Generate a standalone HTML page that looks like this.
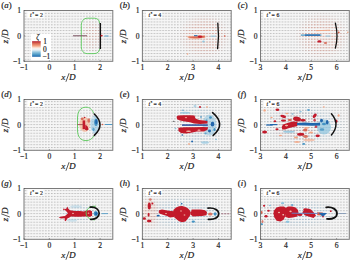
<!DOCTYPE html><html><head><meta charset="utf-8"><style>
html,body{margin:0;padding:0;background:#fff;width:350px;height:260px;overflow:hidden}
svg{display:block}
.s{font-family:"Liberation Serif",serif;fill:#1a1a1a;stroke:#1a1a1a;stroke-width:0.18px}
</style></head><body>
<svg width="350" height="260" viewBox="0 0 350 260">
<defs>
<linearGradient id="cb" x1="0" y1="0" x2="0" y2="1"><stop offset="0" stop-color="#b2182b"/><stop offset="0.12" stop-color="#d6604d"/><stop offset="0.3" stop-color="#f4a582"/><stop offset="0.42" stop-color="#fbe3d6"/><stop offset="0.5" stop-color="#f7f7f7"/><stop offset="0.58" stop-color="#dcebf3"/><stop offset="0.7" stop-color="#92c5de"/><stop offset="0.88" stop-color="#4393c3"/><stop offset="1" stop-color="#2166ac"/></linearGradient>
<radialGradient id="pk"><stop offset="0" stop-color="#f4a582" stop-opacity="0.32"/><stop offset="0.6" stop-color="#f4a582" stop-opacity="0.22"/><stop offset="1" stop-color="#f4a582" stop-opacity="0"/></radialGradient>
<radialGradient id="wg"><stop offset="0" stop-color="#fff"/><stop offset="0.55" stop-color="#fff"/><stop offset="1" stop-color="#000"/></radialGradient>
</defs>
<pattern id="arr00" patternUnits="userSpaceOnUse" x="24.60" y="12.85" width="2.93" height="2.87"><rect width="2.93" height="2.87" fill="#f6f6f6"/><rect x="0.3" y="0.0" width="1.1" height="1.0" fill="#a4a4a4"/></pattern>
<rect x="24.00" y="10.50" width="88.8" height="50.8" fill="url(#arr00)"/>
<pattern id="arr00p" patternUnits="userSpaceOnUse" x="24.60" y="12.85" width="2.93" height="2.87"><rect x="0.3" y="0.0" width="1.1" height="1.0" fill="#e48a78"/></pattern>
<pattern id="arr00b" patternUnits="userSpaceOnUse" x="24.60" y="12.85" width="2.93" height="2.87"><rect x="0.3" y="0.0" width="1.1" height="1.0" fill="#7fb2d6"/></pattern>
<pattern id="arr01" patternUnits="userSpaceOnUse" x="141.85" y="12.85" width="2.93" height="2.87"><rect width="2.93" height="2.87" fill="#f6f6f6"/><rect x="0.3" y="0.0" width="1.1" height="1.0" fill="#a4a4a4"/></pattern>
<rect x="142.40" y="10.50" width="88.8" height="50.8" fill="url(#arr01)"/>
<pattern id="arr01p" patternUnits="userSpaceOnUse" x="141.85" y="12.85" width="2.93" height="2.87"><rect x="0.3" y="0.0" width="1.1" height="1.0" fill="#e48a78"/></pattern>
<pattern id="arr01b" patternUnits="userSpaceOnUse" x="141.85" y="12.85" width="2.93" height="2.87"><rect x="0.3" y="0.0" width="1.1" height="1.0" fill="#7fb2d6"/></pattern>
<pattern id="arr02" patternUnits="userSpaceOnUse" x="261.10" y="12.85" width="2.93" height="2.87"><rect width="2.93" height="2.87" fill="#f6f6f6"/><rect x="0.3" y="0.0" width="1.1" height="1.0" fill="#a4a4a4"/></pattern>
<rect x="260.50" y="10.50" width="88.8" height="50.8" fill="url(#arr02)"/>
<pattern id="arr02p" patternUnits="userSpaceOnUse" x="261.10" y="12.85" width="2.93" height="2.87"><rect x="0.3" y="0.0" width="1.1" height="1.0" fill="#e48a78"/></pattern>
<pattern id="arr02b" patternUnits="userSpaceOnUse" x="261.10" y="12.85" width="2.93" height="2.87"><rect x="0.3" y="0.0" width="1.1" height="1.0" fill="#7fb2d6"/></pattern>
<pattern id="arr10" patternUnits="userSpaceOnUse" x="24.60" y="101.15" width="2.93" height="2.87"><rect width="2.93" height="2.87" fill="#f6f6f6"/><rect x="0.3" y="0.0" width="1.1" height="1.0" fill="#a4a4a4"/></pattern>
<rect x="24.00" y="99.50" width="88.8" height="50.8" fill="url(#arr10)"/>
<pattern id="arr10p" patternUnits="userSpaceOnUse" x="24.60" y="101.15" width="2.93" height="2.87"><rect x="0.3" y="0.0" width="1.1" height="1.0" fill="#e48a78"/></pattern>
<pattern id="arr10b" patternUnits="userSpaceOnUse" x="24.60" y="101.15" width="2.93" height="2.87"><rect x="0.3" y="0.0" width="1.1" height="1.0" fill="#7fb2d6"/></pattern>
<pattern id="arr11" patternUnits="userSpaceOnUse" x="141.85" y="101.15" width="2.93" height="2.87"><rect width="2.93" height="2.87" fill="#f6f6f6"/><rect x="0.3" y="0.0" width="1.1" height="1.0" fill="#a4a4a4"/></pattern>
<rect x="142.40" y="99.50" width="88.8" height="50.8" fill="url(#arr11)"/>
<pattern id="arr11p" patternUnits="userSpaceOnUse" x="141.85" y="101.15" width="2.93" height="2.87"><rect x="0.3" y="0.0" width="1.1" height="1.0" fill="#e48a78"/></pattern>
<pattern id="arr11b" patternUnits="userSpaceOnUse" x="141.85" y="101.15" width="2.93" height="2.87"><rect x="0.3" y="0.0" width="1.1" height="1.0" fill="#7fb2d6"/></pattern>
<pattern id="arr12" patternUnits="userSpaceOnUse" x="261.10" y="101.15" width="2.93" height="2.87"><rect width="2.93" height="2.87" fill="#f6f6f6"/><rect x="0.3" y="0.0" width="1.1" height="1.0" fill="#a4a4a4"/></pattern>
<rect x="260.50" y="99.50" width="88.8" height="50.8" fill="url(#arr12)"/>
<pattern id="arr12p" patternUnits="userSpaceOnUse" x="261.10" y="101.15" width="2.93" height="2.87"><rect x="0.3" y="0.0" width="1.1" height="1.0" fill="#e48a78"/></pattern>
<pattern id="arr12b" patternUnits="userSpaceOnUse" x="261.10" y="101.15" width="2.93" height="2.87"><rect x="0.3" y="0.0" width="1.1" height="1.0" fill="#7fb2d6"/></pattern>
<pattern id="arr20" patternUnits="userSpaceOnUse" x="24.60" y="190.15" width="2.93" height="2.87"><rect width="2.93" height="2.87" fill="#f6f6f6"/><rect x="0.3" y="0.0" width="1.1" height="1.0" fill="#a4a4a4"/></pattern>
<rect x="24.00" y="188.50" width="88.8" height="50.8" fill="url(#arr20)"/>
<pattern id="arr20p" patternUnits="userSpaceOnUse" x="24.60" y="190.15" width="2.93" height="2.87"><rect x="0.3" y="0.0" width="1.1" height="1.0" fill="#e48a78"/></pattern>
<pattern id="arr20b" patternUnits="userSpaceOnUse" x="24.60" y="190.15" width="2.93" height="2.87"><rect x="0.3" y="0.0" width="1.1" height="1.0" fill="#7fb2d6"/></pattern>
<pattern id="arr21" patternUnits="userSpaceOnUse" x="141.85" y="190.15" width="2.93" height="2.87"><rect width="2.93" height="2.87" fill="#f6f6f6"/><rect x="0.3" y="0.0" width="1.1" height="1.0" fill="#a4a4a4"/></pattern>
<rect x="142.40" y="188.50" width="88.8" height="50.8" fill="url(#arr21)"/>
<pattern id="arr21p" patternUnits="userSpaceOnUse" x="141.85" y="190.15" width="2.93" height="2.87"><rect x="0.3" y="0.0" width="1.1" height="1.0" fill="#e48a78"/></pattern>
<pattern id="arr21b" patternUnits="userSpaceOnUse" x="141.85" y="190.15" width="2.93" height="2.87"><rect x="0.3" y="0.0" width="1.1" height="1.0" fill="#7fb2d6"/></pattern>
<pattern id="arr22" patternUnits="userSpaceOnUse" x="261.10" y="190.15" width="2.93" height="2.87"><rect width="2.93" height="2.87" fill="#f6f6f6"/><rect x="0.3" y="0.0" width="1.1" height="1.0" fill="#a4a4a4"/></pattern>
<rect x="260.50" y="188.50" width="88.8" height="50.8" fill="url(#arr22)"/>
<pattern id="arr22p" patternUnits="userSpaceOnUse" x="261.10" y="190.15" width="2.93" height="2.87"><rect x="0.3" y="0.0" width="1.1" height="1.0" fill="#e48a78"/></pattern>
<pattern id="arr22b" patternUnits="userSpaceOnUse" x="261.10" y="190.15" width="2.93" height="2.87"><rect x="0.3" y="0.0" width="1.1" height="1.0" fill="#7fb2d6"/></pattern>
<path d="M99.7,23.2 C99.5,19.8 97.4,18.2 94.2,18.2 L87.4,18.2 C83.6,18.2 81.3,21.2 81.3,25.5 L81.3,46.5 C81.3,51 83.6,53.6 87.4,53.6 L94,53.6 C97.2,53.6 99.4,52 99.8,49" fill="none" stroke="#5ac85a" stroke-width="0.9" stroke-linecap="round"/>
<line x1="73" y1="35.8" x2="87" y2="35.8" stroke="#7a5060" stroke-width="1.0"/>
<line x1="100.3" y1="23" x2="100.3" y2="49" stroke="#111" stroke-width="1.5"/>
<ellipse cx="101.6" cy="35.6" rx="1.1" ry="0.9" fill="#c21a2b"/>
<line x1="104.5" y1="36" x2="108.5" y2="36" stroke="#4393c3" stroke-width="0.9"/>
<mask id="m00p9236" maskUnits="userSpaceOnUse" x="0" y="0" width="350" height="260"><ellipse cx="92" cy="36" rx="11" ry="17" fill="url(#wg)" opacity="0.6"/></mask>
<rect x="24.00" y="10.50" width="88.8" height="50.8" fill="url(#arr00p)" mask="url(#m00p9236)"/>
<mask id="m00b10836" maskUnits="userSpaceOnUse" x="0" y="0" width="350" height="260"><ellipse cx="108" cy="36" rx="6" ry="10" fill="url(#wg)" opacity="0.5"/></mask>
<rect x="24.00" y="10.50" width="88.8" height="50.8" fill="url(#arr00b)" mask="url(#m00b10836)"/>
<mask id="m01p20436" maskUnits="userSpaceOnUse" x="0" y="0" width="350" height="260"><ellipse cx="204" cy="36" rx="26" ry="23" fill="url(#wg)" opacity="0.9"/></mask>
<rect x="142.40" y="10.50" width="88.8" height="50.8" fill="url(#arr01p)" mask="url(#m01p20436)"/>
<polygon points="186.5,36.6 192,36.2 198,35.6 205,35.4 205.5,37.6 200,38.6 194,39 189,38.2" fill="#f4a582" opacity="0.9"/>
<polygon points="188,36.8 196,36.4 204.8,35.8 204.8,37.6 198,38.2 190,37.8" fill="#d6604d" opacity="0.9"/>
<ellipse cx="200" cy="36.6" rx="2.3" ry="1.2" fill="#c21a2b"/>
<line x1="194" y1="35.7" x2="197.5" y2="35.7" stroke="#2166ac" stroke-width="1.0"/>
<line x1="210.5" y1="36.2" x2="216" y2="36.2" stroke="#92c5de" stroke-width="1.0"/>
<ellipse cx="224.7" cy="36" rx="0.9" ry="0.7" fill="#d6604d"/>
<ellipse cx="187.5" cy="54" rx="0.8" ry="0.8" fill="#f4a582"/>
<ellipse cx="203.5" cy="41.5" rx="1.3" ry="0.9" fill="#92c5de"/>
<path d="M217.8,23.2 Q219.3,36 217.6,48.6" fill="none" stroke="#111" stroke-width="1.3" stroke-linecap="round"/>
<mask id="m02p32236" maskUnits="userSpaceOnUse" x="0" y="0" width="350" height="260"><ellipse cx="322" cy="36" rx="27" ry="24" fill="url(#wg)" opacity="0.9"/></mask>
<rect x="260.50" y="10.50" width="88.8" height="50.8" fill="url(#arr02p)" mask="url(#m02p32236)"/>
<line x1="300.8" y1="35.1" x2="321.4" y2="35.1" stroke="#4393c3" stroke-width="1.2"/>
<line x1="305" y1="35.1" x2="320" y2="35.1" stroke="#2166ac" stroke-width="1.3"/>
<line x1="325.5" y1="36.1" x2="330.5" y2="36.1" stroke="#92c5de" stroke-width="1.0"/>
<ellipse cx="319.4" cy="41.4" rx="2.1" ry="1.2" fill="#c21a2b"/>
<ellipse cx="325.5" cy="43" rx="1.7" ry="1.0" fill="#d6604d" opacity="0.85"/>
<line x1="316" y1="30.7" x2="330" y2="30.2" stroke="#f4a582" stroke-width="0.9"/>
<ellipse cx="338.7" cy="32.3" rx="1.0" ry="0.9" fill="#d6604d"/>
<ellipse cx="347.8" cy="32.3" rx="0.8" ry="0.7" fill="#f4a582"/>
<path d="M335.4,23.2 Q338.6,36 335.4,48.2" fill="none" stroke="#111" stroke-width="1.3" stroke-linecap="round"/>
<path d="M93.6,113 C92,109.2 89.5,107.2 86,107.2 C80,107.2 77.6,112 77.5,118 L77.5,130 C77.6,136 80,140.6 86,140.6 C89.5,140.6 92.2,139 94,136" fill="none" stroke="#5ac85a" stroke-width="0.9" stroke-linecap="round"/>
<ellipse cx="84.8" cy="124.5" rx="5.2" ry="7.6" fill="#f4a582" opacity="0.55"/>
<ellipse cx="81.5" cy="124.5" rx="2.4" ry="5.5" fill="#f8c9a8" opacity="0.5"/>
<ellipse cx="94.6" cy="124.6" rx="4.2" ry="9.2" fill="#92c5de" opacity="0.62"/>
<ellipse cx="92.5" cy="131" rx="1.2" ry="1.0" fill="#ffffff" opacity="0.6"/>
<ellipse cx="93" cy="118" rx="1.0" ry="1.0" fill="#ffffff" opacity="0.5"/>
<rect x="82.6" y="120.4" width="2.6" height="8.8" fill="#c21a2b"/>
<polygon points="85.4,124.5 87.6,126.6 88.6,129.4 86.8,130.4 85,129.8 85.2,127.2" fill="#c21a2b"/>
<ellipse cx="82.2" cy="118.8" rx="1.5" ry="1.2" fill="#d6604d" opacity="0.9"/>
<ellipse cx="88.8" cy="120.5" rx="1.4" ry="2.2" fill="#d6604d" opacity="0.85"/>
<ellipse cx="84.6" cy="117.5" rx="0.8" ry="0.8" fill="#c21a2b"/>
<ellipse cx="96" cy="122.3" rx="1.8" ry="3.6" fill="#4393c3"/>
<ellipse cx="96.3" cy="121.8" rx="1.1" ry="2.4" fill="#2166ac"/>
<ellipse cx="93.5" cy="129.5" rx="1.2" ry="1.8" fill="#4393c3" opacity="0.8"/>
<line x1="77.2" y1="124.6" x2="83" y2="124.6" stroke="#9a5050" stroke-width="0.9"/>
<path d="M94.3,114 Q105.7,124.8 94.3,135.3" fill="none" stroke="#111" stroke-width="1.6" stroke-linecap="round"/>
<ellipse cx="102.5" cy="124.5" rx="0.8" ry="0.7" fill="#d6604d"/>
<line x1="105" y1="124.5" x2="112.5" y2="124.5" stroke="#4393c3" stroke-width="0.9"/>
<mask id="m11b198124" maskUnits="userSpaceOnUse" x="0" y="0" width="350" height="260"><ellipse cx="198" cy="124.5" rx="27" ry="24" fill="url(#wg)" opacity="0.8"/></mask>
<rect x="142.40" y="99.50" width="88.8" height="50.8" fill="url(#arr11b)" mask="url(#m11b198124)"/>
<mask id="m11p190124" maskUnits="userSpaceOnUse" x="0" y="0" width="350" height="260"><ellipse cx="190" cy="124.5" rx="18" ry="14" fill="url(#wg)" opacity="0.5"/></mask>
<rect x="142.40" y="99.50" width="88.8" height="50.8" fill="url(#arr11p)" mask="url(#m11p190124)"/>
<ellipse cx="209.5" cy="125" rx="7" ry="10.5" fill="#92c5de" opacity="0.55"/>
<ellipse cx="185" cy="112.8" rx="5" ry="1" fill="#92c5de" opacity="0.8"/>
<polygon points="176.6,116.6 178,115.6 183,115.2 190,115.2 194.5,115.6 195.5,118.6 199,120 204,120.4 207.5,120.8 207.5,123.4 200,123.9 194,123.6 190,122.2 185,121.6 180,120.6 177,119.2" fill="#c21a2b"/>
<ellipse cx="186" cy="117.6" rx="1.2" ry="0.6" fill="#f0a898"/>
<polygon points="178.4,127.8 185,127.2 195,127.3 203,126.9 208.2,127.3 207.4,129.8 204,131.4 197,131.6 191,132.8 186,133.4 181,133 178.4,131" fill="#c21a2b"/>
<ellipse cx="188.5" cy="131.2" rx="2.5" ry="0.7" fill="#f3c0b0"/>
<ellipse cx="199" cy="130.2" rx="1.6" ry="0.6" fill="#f3c0b0"/>
<line x1="182" y1="125.1" x2="207.8" y2="125.1" stroke="#2d4f9e" stroke-width="1.5"/>
<ellipse cx="212.5" cy="124.2" rx="1.8" ry="2.4" fill="#2166ac"/>
<ellipse cx="209.5" cy="131" rx="1.5" ry="1.4" fill="#2166ac"/>
<ellipse cx="214.5" cy="129.5" rx="1.1" ry="1.6" fill="#4393c3"/>
<ellipse cx="210.5" cy="117.5" rx="1.4" ry="1.2" fill="#4393c3"/>
<ellipse cx="206.5" cy="120.2" rx="1.0" ry="0.8" fill="#4393c3"/>
<ellipse cx="201" cy="117" rx="1" ry="0.8" fill="#4393c3"/>
<ellipse cx="205.5" cy="133.5" rx="1.1" ry="0.9" fill="#4393c3" opacity="0.8"/>
<ellipse cx="200" cy="107" rx="1" ry="0.9" fill="#c21a2b"/>
<ellipse cx="207" cy="107" rx="1" ry="0.8" fill="#f4a582"/>
<ellipse cx="182.3" cy="135" rx="0.9" ry="0.8" fill="#2166ac"/>
<ellipse cx="192.1" cy="141.4" rx="1" ry="0.9" fill="#2166ac"/>
<ellipse cx="205" cy="142.5" rx="4" ry="1.3" fill="#92c5de" opacity="0.7"/>
<ellipse cx="175.5" cy="128.5" rx="0.9" ry="0.8" fill="#92c5de"/>
<ellipse cx="182.8" cy="110.2" rx="1.2" ry="0.7" fill="#4393c3" opacity="0.6"/>
<ellipse cx="195" cy="106" rx="1.5" ry="0.7" fill="#92c5de"/>
<ellipse cx="189" cy="144" rx="1.2" ry="0.7" fill="#f4a582"/>
<ellipse cx="216" cy="139.5" rx="1.0" ry="0.8" fill="#92c5de"/>
<ellipse cx="173.7" cy="121.2" rx="1" ry="0.5" fill="#555"/>
<path d="M212.6,112.6 Q226.4,124.2 213.2,135.4" fill="none" stroke="#111" stroke-width="1.6" stroke-linecap="round"/>
<mask id="m12b304125" maskUnits="userSpaceOnUse" x="0" y="0" width="350" height="260"><ellipse cx="304" cy="125" rx="44" ry="22" fill="url(#wg)" opacity="0.8"/></mask>
<rect x="260.50" y="99.50" width="88.8" height="50.8" fill="url(#arr12b)" mask="url(#m12b304125)"/>
<mask id="m12p296126" maskUnits="userSpaceOnUse" x="0" y="0" width="350" height="260"><ellipse cx="296" cy="126" rx="30" ry="18" fill="url(#wg)" opacity="0.6"/></mask>
<rect x="260.50" y="99.50" width="88.8" height="50.8" fill="url(#arr12p)" mask="url(#m12p296126)"/>
<ellipse cx="324" cy="127" rx="7" ry="7.5" fill="#92c5de" opacity="0.75"/>
<ellipse cx="289" cy="131.7" rx="6" ry="1" fill="#92c5de" opacity="0.9"/>
<ellipse cx="277.4" cy="109.8" rx="1.9" ry="1.3" fill="#c21a2b"/>
<ellipse cx="283.5" cy="120.6" rx="2.6" ry="1.1" fill="#c21a2b"/>
<ellipse cx="289.8" cy="120" rx="2.2" ry="1.0" fill="#d6604d"/>
<ellipse cx="306.5" cy="127.8" rx="2.6" ry="0.9" fill="#f4a582"/>
<ellipse cx="311" cy="132.5" rx="2" ry="1" fill="#f4a582"/>
<ellipse cx="296" cy="137.5" rx="2" ry="0.9" fill="#f4a582"/>
<ellipse cx="287" cy="113.5" rx="1.5" ry="0.8" fill="#f4a582"/>
<ellipse cx="271.5" cy="117.5" rx="1.2" ry="0.8" fill="#f4a582"/>
<ellipse cx="280.5" cy="135.5" rx="1.6" ry="0.8" fill="#f4a582"/>
<ellipse cx="300.5" cy="111.8" rx="1.3" ry="0.8" fill="#92c5de"/>
<ellipse cx="292.5" cy="114" rx="1.2" ry="0.7" fill="#4393c3" opacity="0.6"/>
<ellipse cx="264.6" cy="110.4" rx="1.2" ry="1.2" fill="#f4a582"/>
<ellipse cx="283.2" cy="116.3" rx="3" ry="1.4" fill="#c21a2b" transform="rotate(15 283.2 116.3)"/>
<ellipse cx="297" cy="119" rx="4" ry="2.4" fill="#c21a2b" transform="rotate(10 297 119)"/>
<ellipse cx="303" cy="120.3" rx="2.8" ry="1.3" fill="#c21a2b"/>
<polygon points="281.7,127 283,124.5 286,123.4 289,122.4 293,121.6 297,121.8 298.3,123.5 297,126.2 292,127.2 288.5,128.2 285,129.6 282.3,129.4" fill="#c21a2b"/>
<ellipse cx="286.5" cy="125.6" rx="1.6" ry="0.8" fill="#f2b8a8"/>
<ellipse cx="274.9" cy="121.2" rx="1.3" ry="1" fill="#c21a2b"/>
<ellipse cx="277" cy="129.2" rx="1.6" ry="1" fill="#c21a2b"/>
<ellipse cx="264.6" cy="132.1" rx="2.5" ry="1.5" fill="#c21a2b"/>
<ellipse cx="300.7" cy="134.2" rx="3.6" ry="1.5" fill="#c21a2b"/>
<ellipse cx="305.5" cy="136.5" rx="2.6" ry="1.4" fill="#d6604d" opacity="0.85"/>
<ellipse cx="305.3" cy="130" rx="2.3" ry="1.6" fill="#d6604d" opacity="0.9"/>
<ellipse cx="314.6" cy="120.2" rx="1.2" ry="1.4" fill="#c21a2b" opacity="0.8"/>
<ellipse cx="314.7" cy="115.8" rx="1.5" ry="2.6" fill="#c21a2b" transform="rotate(40 314.7 115.8)"/>
<ellipse cx="316" cy="126.5" rx="1.3" ry="1.5" fill="#c21a2b" opacity="0.8"/>
<ellipse cx="317.7" cy="135.8" rx="2.2" ry="1.4" fill="#c21a2b"/>
<ellipse cx="297" cy="142" rx="3" ry="1" fill="#f4a582" opacity="0.8"/>
<ellipse cx="309" cy="140" rx="6" ry="1.5" fill="#f4a582" opacity="0.6"/>
<line x1="266.2" y1="125" x2="272.7" y2="125" stroke="#2166ac" stroke-width="1.3"/>
<line x1="270" y1="124.6" x2="277.4" y2="124.6" stroke="#2166ac" stroke-width="1.2"/>
<polygon points="297,123 305,122.6 312,123 320,122.8 320,125.6 312,125.8 305,125.4 297,125.3" fill="#2166ac"/>
<ellipse cx="321.5" cy="120.6" rx="1.5" ry="1.8" fill="#2166ac"/>
<ellipse cx="327.2" cy="122.3" rx="1.3" ry="2.2" fill="#2166ac"/>
<ellipse cx="324" cy="124" rx="2" ry="1.2" fill="#4393c3"/>
<ellipse cx="322" cy="129.5" rx="2.3" ry="1.3" fill="#4393c3" opacity="0.8"/>
<ellipse cx="308.5" cy="110" rx="1.5" ry="1" fill="#4393c3" opacity="0.8"/>
<ellipse cx="303.7" cy="143.9" rx="1.5" ry="0.9" fill="#4393c3"/>
<ellipse cx="323.8" cy="106.9" rx="1" ry="0.7" fill="#f4a582"/>
<ellipse cx="336.2" cy="121.2" rx="1.3" ry="1.6" fill="#c21a2b"/>
<ellipse cx="338.6" cy="115.5" rx="1" ry="1.2" fill="#f4a582"/>
<path d="M331.4,113.8 Q340.6,124.5 331.4,135" fill="none" stroke="#111" stroke-width="1.4" stroke-linecap="round"/>
<mask id="m20b80213" maskUnits="userSpaceOnUse" x="0" y="0" width="350" height="260"><ellipse cx="80" cy="213" rx="20" ry="11" fill="url(#wg)" opacity="0.8"/></mask>
<rect x="24.00" y="188.50" width="88.8" height="50.8" fill="url(#arr20b)" mask="url(#m20b80213)"/>
<polygon points="64.2,209.6 66.4,208.6 67.3,206.6 68.4,208.8 70,210.2 75,211 80,211 84,211.4 86,210.6 90,210.3 92,211.2 92.2,215.8 90,216.8 86,216.6 84,216.6 80,216.8 76,216.8 71,216.6 69.4,217.4 67.3,218.4 65.8,221.3 64.6,220.4 64.8,218.2 61,218.5 58.6,217.4 61.5,216.6 65,216 68,213.3 66,211" fill="#c21a2b"/>
<ellipse cx="63.9" cy="209.4" rx="0.8" ry="0.8" fill="#c21a2b"/>
<ellipse cx="73" cy="213.4" rx="0.9" ry="0.6" fill="#f0b0a8"/>
<ellipse cx="88.5" cy="213.2" rx="0.8" ry="0.6" fill="#f0b0a8"/>
<ellipse cx="79.9" cy="188.6" rx="0.6" ry="0.6" fill="#c21a2b"/>
<path d="M95.5,206.2 C90,206 86.4,208.8 86.1,212.6 C85.9,216.4 88.6,219.6 94.5,219.9" fill="none" stroke="#5ac85a" stroke-width="0.95" stroke-linecap="round"/>
<ellipse cx="95.8" cy="213.5" rx="2.2" ry="2.6" fill="#4393c3"/>
<ellipse cx="96.2" cy="213.6" rx="1.2" ry="1.6" fill="#2166ac"/>
<path d="M90.2,207.2 C95.5,206.6 99.2,209.6 99.2,213.2 C99.2,216.8 95.5,219.8 90.8,219.4" fill="none" stroke="#111" stroke-width="1.7" stroke-linecap="round"/>
<line x1="101.5" y1="213.6" x2="108" y2="213.6" stroke="#4393c3" stroke-width="0.8"/>
<ellipse cx="76" cy="206.5" rx="6" ry="1.2" fill="#92c5de" opacity="0.4"/>
<ellipse cx="72" cy="220.5" rx="5" ry="1.2" fill="#92c5de" opacity="0.4"/>
<mask id="m21b182213" maskUnits="userSpaceOnUse" x="0" y="0" width="350" height="260"><ellipse cx="182" cy="213" rx="44" ry="18" fill="url(#wg)" opacity="0.8"/></mask>
<rect x="142.40" y="188.50" width="88.8" height="50.8" fill="url(#arr21b)" mask="url(#m21b182213)"/>
<mask id="m21p150213" maskUnits="userSpaceOnUse" x="0" y="0" width="350" height="260"><ellipse cx="150" cy="213" rx="12" ry="18" fill="url(#wg)" opacity="0.7"/></mask>
<rect x="142.40" y="188.50" width="88.8" height="50.8" fill="url(#arr21p)" mask="url(#m21p150213)"/>
<ellipse cx="150" cy="212" rx="7" ry="11" fill="#f4a582" opacity="0.12"/>
<polygon points="173.4,210 176,207.4 179,206.2 182,206 185,206.8 187.5,208 189.5,210 191,212.5 190,215.5 188,218.5 185.5,221.6 182,222.3 179,221.2 176.5,219.2 174.5,217.4 173.4,214" fill="#c21a2b"/>
<ellipse cx="181" cy="211" rx="0.9" ry="0.7" fill="#e89a90"/>
<ellipse cx="184.5" cy="215" rx="0.9" ry="0.7" fill="#e89a90"/>
<polygon points="159,210.2 162,209.6 166,210.2 169,210.8 174,211.2 174,217 170,217.4 167,216 163,214.8 160,213.8 158.6,212.4" fill="#c21a2b"/>
<ellipse cx="166" cy="213.5" rx="1" ry="0.6" fill="#f0b0a0"/>
<polygon points="191.6,209.5 196,209.4 201,209.6 205,210.2 207,212 206.5,215.2 202,216 197,216.2 193,216.6 190.5,214.5" fill="#c21a2b"/>
<ellipse cx="210.3" cy="214" rx="2.3" ry="1.6" fill="#d6604d" opacity="0.85"/>
<ellipse cx="149.3" cy="206.1" rx="1.6" ry="3.5" fill="#c21a2b"/>
<ellipse cx="150.3" cy="199.5" rx="1.3" ry="1.2" fill="#d6604d" opacity="0.8"/>
<ellipse cx="152.4" cy="203.5" rx="1" ry="1" fill="#c21a2b"/>
<ellipse cx="148.6" cy="214.7" rx="1.0" ry="1.9" fill="#c21a2b"/>
<ellipse cx="144.2" cy="218.5" rx="1.7" ry="1.3" fill="#c21a2b"/>
<ellipse cx="149.2" cy="221" rx="2.3" ry="1.3" fill="#c21a2b"/>
<ellipse cx="158.2" cy="215.6" rx="1.6" ry="0.9" fill="#2166ac"/>
<ellipse cx="181.7" cy="203.8" rx="0.9" ry="0.8" fill="#2166ac"/>
<ellipse cx="193.3" cy="221.6" rx="1.7" ry="1.1" fill="#4393c3"/>
<ellipse cx="215.1" cy="214" rx="1.5" ry="1.7" fill="#4393c3"/>
<path d="M208,208.1 C215,207.4 218.7,210.5 218.7,213.8 C218.7,217.2 215,219.8 208.4,219.3" fill="none" stroke="#111" stroke-width="1.7" stroke-linecap="round"/>
<line x1="221.3" y1="213.8" x2="230.5" y2="213.8" stroke="#9a6070" stroke-width="0.9" stroke-dasharray="2 1"/>
<mask id="m22b298213" maskUnits="userSpaceOnUse" x="0" y="0" width="350" height="260"><ellipse cx="298" cy="213" rx="42" ry="16" fill="url(#wg)" opacity="0.8"/></mask>
<rect x="260.50" y="188.50" width="88.8" height="50.8" fill="url(#arr22b)" mask="url(#m22b298213)"/>
<mask id="m22p280213" maskUnits="userSpaceOnUse" x="0" y="0" width="350" height="260"><ellipse cx="280" cy="213" rx="20" ry="12" fill="url(#wg)" opacity="0.5"/></mask>
<rect x="260.50" y="188.50" width="88.8" height="50.8" fill="url(#arr22p)" mask="url(#m22p280213)"/>
<polygon points="274,210.5 276.5,207.6 280,206.4 284,206.6 286.5,208.4 286.4,212 285.4,216 283.6,219.8 280.5,221.6 276.6,220.8 274.4,217.6 273.4,213.6" fill="#c21a2b"/>
<polygon points="285,208.2 288,206.4 292,206.6 295.6,207.6 298,210 298.6,213 297.2,216.4 293,217.6 288.6,218 285.4,217" fill="#c21a2b"/>
<ellipse cx="279" cy="212.5" rx="1.1" ry="0.8" fill="#f0b5a5"/>
<ellipse cx="290.5" cy="211.4" rx="1.2" ry="0.8" fill="#f0b5a5"/>
<ellipse cx="283.2" cy="214.8" rx="0.9" ry="0.7" fill="#f4d0c4"/>
<ellipse cx="266" cy="216.2" rx="1.6" ry="1.3" fill="#c21a2b"/>
<ellipse cx="264.1" cy="205.8" rx="1.1" ry="1" fill="#c21a2b"/>
<ellipse cx="261.5" cy="212.5" rx="1.1" ry="1.4" fill="#d6604d"/>
<ellipse cx="268.5" cy="210.8" rx="1.3" ry="1.0" fill="#c21a2b"/>
<ellipse cx="262.5" cy="221.5" rx="1.0" ry="1.6" fill="#d6604d" opacity="0.8"/>
<ellipse cx="282.6" cy="203.2" rx="1.5" ry="0.9" fill="#92c5de"/>
<ellipse cx="287.6" cy="221.7" rx="1.8" ry="1" fill="#92c5de"/>
<ellipse cx="292.2" cy="205" rx="1" ry="0.8" fill="#4393c3" opacity="0.7"/>
<ellipse cx="261.8" cy="224.2" rx="1" ry="0.9" fill="#4393c3" opacity="0.8"/>
<ellipse cx="270" cy="205.5" rx="1.2" ry="0.8" fill="#92c5de"/>
<polygon points="302.3,212.6 304.5,209.2 308,208.6 311,209.4 313.8,212.6 316,215.5 313.5,218 309.5,216.8 305,215.6" fill="#c21a2b"/>
<ellipse cx="305.3" cy="209.5" rx="2" ry="1.2" fill="#c21a2b"/>
<ellipse cx="300" cy="214.6" rx="2.5" ry="1.5" fill="#c21a2b"/>
<polygon points="317,212.2 322.8,212.6 323,215.6 317.2,215.2" fill="#d6604d"/>
<ellipse cx="323" cy="216.5" rx="0.9" ry="0.9" fill="#c21a2b"/>
<polygon points="318.5,212.8 327,213.1 324.5,215.4 322.5,216.6" fill="#2166ac"/>
<line x1="291.6" y1="213.2" x2="318" y2="213.4" stroke="#6a7fc0" stroke-width="1.0"/>
<ellipse cx="282.6" cy="203.2" rx="1.5" ry="0.9" fill="#92c5de"/>
<ellipse cx="287.6" cy="221.7" rx="1.8" ry="1" fill="#92c5de"/>
<ellipse cx="292.2" cy="205" rx="1" ry="0.8" fill="#4393c3" opacity="0.7"/>
<ellipse cx="261.8" cy="224.2" rx="1" ry="0.9" fill="#4393c3" opacity="0.8"/>
<ellipse cx="330.8" cy="211.2" rx="0.9" ry="0.9" fill="#c21a2b"/>
<path d="M326.2,207.3 C332.5,206.6 337,209.5 337,213.5 C337,217.5 332.5,219.4 327,218.9" fill="none" stroke="#111" stroke-width="1.8" stroke-linecap="round"/>
<line x1="338.5" y1="213.5" x2="346" y2="213.5" stroke="#7a90b0" stroke-width="0.8"/>
<rect x="24.00" y="10.50" width="88.8" height="50.8" fill="none" stroke="#7a7a7a" stroke-width="1"/>
<line x1="24.00" y1="61.30" x2="24.00" y2="60.10" stroke="#555" stroke-width="0.6"/>
<line x1="49.37" y1="61.30" x2="49.37" y2="60.10" stroke="#555" stroke-width="0.6"/>
<line x1="74.74" y1="61.30" x2="74.74" y2="60.10" stroke="#555" stroke-width="0.6"/>
<line x1="100.11" y1="61.30" x2="100.11" y2="60.10" stroke="#555" stroke-width="0.6"/>
<line x1="24.00" y1="61.30" x2="25.20" y2="61.30" stroke="#555" stroke-width="0.6"/>
<line x1="24.00" y1="35.90" x2="25.20" y2="35.90" stroke="#555" stroke-width="0.6"/>
<line x1="24.00" y1="10.50" x2="25.20" y2="10.50" stroke="#555" stroke-width="0.6"/>
<rect x="27.30" y="11.50" width="16.5" height="6.4" fill="#fff"/>
<text y="17.00" font-size="5.8" class="s"><tspan x="30.10" font-style="italic">t</tspan><tspan x="32.20" font-size="3.8" dy="-2.2">*</tspan><tspan x="35.10" dy="2.2">=</tspan><tspan x="39.90">2</tspan></text>
<text x="1.30" y="7.60" font-size="8.8" class="s">(<tspan font-style="italic">a</tspan>)</text>
<text x="21.10" y="13.10" font-size="7.6" class="s" text-anchor="end">1</text>
<text x="21.10" y="38.50" font-size="7.6" class="s" text-anchor="end">0</text>
<text x="21.10" y="63.90" font-size="7.6" class="s" text-anchor="end">−1</text>
<text x="24.00" y="69.60" font-size="7.6" class="s" text-anchor="middle">−1</text>
<text x="49.37" y="69.60" font-size="7.6" class="s" text-anchor="middle">0</text>
<text x="74.74" y="69.60" font-size="7.6" class="s" text-anchor="middle">1</text>
<text x="100.11" y="69.60" font-size="7.6" class="s" text-anchor="middle">2</text>
<text x="61.20" y="79.80" font-size="9.2" class="s" font-style="italic">x</text>
<line x1="65.90" y1="81.80" x2="69.10" y2="73.20" stroke="#222" stroke-width="0.75"/>
<text x="69.00" y="79.80" font-size="9.2" class="s" font-style="italic">D</text>
<g transform="translate(7.80 36.10) rotate(-90)"><text x="-7.4" y="0" font-size="9.2" class="s" font-style="italic">z</text><line x1="-2.9" y1="2.0" x2="0.3" y2="-6.6" stroke="#222" stroke-width="0.75"/><text x="0.2" y="0" font-size="9.2" class="s" font-style="italic">D</text></g>
<rect x="142.40" y="10.50" width="88.8" height="50.8" fill="none" stroke="#7a7a7a" stroke-width="1"/>
<line x1="142.40" y1="61.30" x2="142.40" y2="60.10" stroke="#555" stroke-width="0.6"/>
<line x1="167.77" y1="61.30" x2="167.77" y2="60.10" stroke="#555" stroke-width="0.6"/>
<line x1="193.14" y1="61.30" x2="193.14" y2="60.10" stroke="#555" stroke-width="0.6"/>
<line x1="218.51" y1="61.30" x2="218.51" y2="60.10" stroke="#555" stroke-width="0.6"/>
<line x1="142.40" y1="61.30" x2="143.60" y2="61.30" stroke="#555" stroke-width="0.6"/>
<line x1="142.40" y1="35.90" x2="143.60" y2="35.90" stroke="#555" stroke-width="0.6"/>
<line x1="142.40" y1="10.50" x2="143.60" y2="10.50" stroke="#555" stroke-width="0.6"/>
<rect x="145.70" y="11.50" width="16.5" height="6.4" fill="#fff"/>
<text y="17.00" font-size="5.8" class="s"><tspan x="148.50" font-style="italic">t</tspan><tspan x="150.60" font-size="3.8" dy="-2.2">*</tspan><tspan x="153.50" dy="2.2">=</tspan><tspan x="158.30">4</tspan></text>
<text x="119.70" y="7.60" font-size="8.8" class="s">(<tspan font-style="italic">b</tspan>)</text>
<text x="139.50" y="13.10" font-size="7.6" class="s" text-anchor="end">1</text>
<text x="139.50" y="38.50" font-size="7.6" class="s" text-anchor="end">0</text>
<text x="139.50" y="63.90" font-size="7.6" class="s" text-anchor="end">−1</text>
<text x="142.40" y="69.60" font-size="7.6" class="s" text-anchor="middle">1</text>
<text x="167.77" y="69.60" font-size="7.6" class="s" text-anchor="middle">2</text>
<text x="193.14" y="69.60" font-size="7.6" class="s" text-anchor="middle">3</text>
<text x="218.51" y="69.60" font-size="7.6" class="s" text-anchor="middle">4</text>
<text x="179.60" y="79.80" font-size="9.2" class="s" font-style="italic">x</text>
<line x1="184.30" y1="81.80" x2="187.50" y2="73.20" stroke="#222" stroke-width="0.75"/>
<text x="187.40" y="79.80" font-size="9.2" class="s" font-style="italic">D</text>
<g transform="translate(126.20 36.10) rotate(-90)"><text x="-7.4" y="0" font-size="9.2" class="s" font-style="italic">z</text><line x1="-2.9" y1="2.0" x2="0.3" y2="-6.6" stroke="#222" stroke-width="0.75"/><text x="0.2" y="0" font-size="9.2" class="s" font-style="italic">D</text></g>
<rect x="260.50" y="10.50" width="88.8" height="50.8" fill="none" stroke="#7a7a7a" stroke-width="1"/>
<line x1="260.50" y1="61.30" x2="260.50" y2="60.10" stroke="#555" stroke-width="0.6"/>
<line x1="285.87" y1="61.30" x2="285.87" y2="60.10" stroke="#555" stroke-width="0.6"/>
<line x1="311.24" y1="61.30" x2="311.24" y2="60.10" stroke="#555" stroke-width="0.6"/>
<line x1="336.61" y1="61.30" x2="336.61" y2="60.10" stroke="#555" stroke-width="0.6"/>
<line x1="260.50" y1="61.30" x2="261.70" y2="61.30" stroke="#555" stroke-width="0.6"/>
<line x1="260.50" y1="35.90" x2="261.70" y2="35.90" stroke="#555" stroke-width="0.6"/>
<line x1="260.50" y1="10.50" x2="261.70" y2="10.50" stroke="#555" stroke-width="0.6"/>
<rect x="263.80" y="11.50" width="16.5" height="6.4" fill="#fff"/>
<text y="17.00" font-size="5.8" class="s"><tspan x="266.60" font-style="italic">t</tspan><tspan x="268.70" font-size="3.8" dy="-2.2">*</tspan><tspan x="271.60" dy="2.2">=</tspan><tspan x="276.40">6</tspan></text>
<text x="237.80" y="7.60" font-size="8.8" class="s">(<tspan font-style="italic">c</tspan>)</text>
<text x="257.60" y="13.10" font-size="7.6" class="s" text-anchor="end">1</text>
<text x="257.60" y="38.50" font-size="7.6" class="s" text-anchor="end">0</text>
<text x="257.60" y="63.90" font-size="7.6" class="s" text-anchor="end">−1</text>
<text x="260.50" y="69.60" font-size="7.6" class="s" text-anchor="middle">3</text>
<text x="285.87" y="69.60" font-size="7.6" class="s" text-anchor="middle">4</text>
<text x="311.24" y="69.60" font-size="7.6" class="s" text-anchor="middle">5</text>
<text x="336.61" y="69.60" font-size="7.6" class="s" text-anchor="middle">6</text>
<text x="297.70" y="79.80" font-size="9.2" class="s" font-style="italic">x</text>
<line x1="302.40" y1="81.80" x2="305.60" y2="73.20" stroke="#222" stroke-width="0.75"/>
<text x="305.50" y="79.80" font-size="9.2" class="s" font-style="italic">D</text>
<g transform="translate(244.30 36.10) rotate(-90)"><text x="-7.4" y="0" font-size="9.2" class="s" font-style="italic">z</text><line x1="-2.9" y1="2.0" x2="0.3" y2="-6.6" stroke="#222" stroke-width="0.75"/><text x="0.2" y="0" font-size="9.2" class="s" font-style="italic">D</text></g>
<rect x="24.00" y="99.50" width="88.8" height="50.8" fill="none" stroke="#7a7a7a" stroke-width="1"/>
<line x1="24.00" y1="150.30" x2="24.00" y2="149.10" stroke="#555" stroke-width="0.6"/>
<line x1="49.37" y1="150.30" x2="49.37" y2="149.10" stroke="#555" stroke-width="0.6"/>
<line x1="74.74" y1="150.30" x2="74.74" y2="149.10" stroke="#555" stroke-width="0.6"/>
<line x1="100.11" y1="150.30" x2="100.11" y2="149.10" stroke="#555" stroke-width="0.6"/>
<line x1="24.00" y1="150.30" x2="25.20" y2="150.30" stroke="#555" stroke-width="0.6"/>
<line x1="24.00" y1="124.90" x2="25.20" y2="124.90" stroke="#555" stroke-width="0.6"/>
<line x1="24.00" y1="99.50" x2="25.20" y2="99.50" stroke="#555" stroke-width="0.6"/>
<rect x="27.30" y="100.50" width="16.5" height="6.4" fill="#fff"/>
<text y="106.00" font-size="5.8" class="s"><tspan x="30.10" font-style="italic">t</tspan><tspan x="32.20" font-size="3.8" dy="-2.2">*</tspan><tspan x="35.10" dy="2.2">=</tspan><tspan x="39.90">2</tspan></text>
<text x="1.30" y="96.60" font-size="8.8" class="s">(<tspan font-style="italic">d</tspan>)</text>
<text x="21.10" y="102.10" font-size="7.6" class="s" text-anchor="end">1</text>
<text x="21.10" y="127.50" font-size="7.6" class="s" text-anchor="end">0</text>
<text x="21.10" y="152.90" font-size="7.6" class="s" text-anchor="end">−1</text>
<text x="24.00" y="158.60" font-size="7.6" class="s" text-anchor="middle">−1</text>
<text x="49.37" y="158.60" font-size="7.6" class="s" text-anchor="middle">0</text>
<text x="74.74" y="158.60" font-size="7.6" class="s" text-anchor="middle">1</text>
<text x="100.11" y="158.60" font-size="7.6" class="s" text-anchor="middle">2</text>
<text x="61.20" y="168.80" font-size="9.2" class="s" font-style="italic">x</text>
<line x1="65.90" y1="170.80" x2="69.10" y2="162.20" stroke="#222" stroke-width="0.75"/>
<text x="69.00" y="168.80" font-size="9.2" class="s" font-style="italic">D</text>
<g transform="translate(7.80 125.10) rotate(-90)"><text x="-7.4" y="0" font-size="9.2" class="s" font-style="italic">z</text><line x1="-2.9" y1="2.0" x2="0.3" y2="-6.6" stroke="#222" stroke-width="0.75"/><text x="0.2" y="0" font-size="9.2" class="s" font-style="italic">D</text></g>
<rect x="142.40" y="99.50" width="88.8" height="50.8" fill="none" stroke="#7a7a7a" stroke-width="1"/>
<line x1="142.40" y1="150.30" x2="142.40" y2="149.10" stroke="#555" stroke-width="0.6"/>
<line x1="167.77" y1="150.30" x2="167.77" y2="149.10" stroke="#555" stroke-width="0.6"/>
<line x1="193.14" y1="150.30" x2="193.14" y2="149.10" stroke="#555" stroke-width="0.6"/>
<line x1="218.51" y1="150.30" x2="218.51" y2="149.10" stroke="#555" stroke-width="0.6"/>
<line x1="142.40" y1="150.30" x2="143.60" y2="150.30" stroke="#555" stroke-width="0.6"/>
<line x1="142.40" y1="124.90" x2="143.60" y2="124.90" stroke="#555" stroke-width="0.6"/>
<line x1="142.40" y1="99.50" x2="143.60" y2="99.50" stroke="#555" stroke-width="0.6"/>
<rect x="145.70" y="100.50" width="16.5" height="6.4" fill="#fff"/>
<text y="106.00" font-size="5.8" class="s"><tspan x="148.50" font-style="italic">t</tspan><tspan x="150.60" font-size="3.8" dy="-2.2">*</tspan><tspan x="153.50" dy="2.2">=</tspan><tspan x="158.30">4</tspan></text>
<text x="119.70" y="96.60" font-size="8.8" class="s">(<tspan font-style="italic">e</tspan>)</text>
<text x="139.50" y="102.10" font-size="7.6" class="s" text-anchor="end">1</text>
<text x="139.50" y="127.50" font-size="7.6" class="s" text-anchor="end">0</text>
<text x="139.50" y="152.90" font-size="7.6" class="s" text-anchor="end">−1</text>
<text x="142.40" y="158.60" font-size="7.6" class="s" text-anchor="middle">1</text>
<text x="167.77" y="158.60" font-size="7.6" class="s" text-anchor="middle">2</text>
<text x="193.14" y="158.60" font-size="7.6" class="s" text-anchor="middle">3</text>
<text x="218.51" y="158.60" font-size="7.6" class="s" text-anchor="middle">4</text>
<text x="179.60" y="168.80" font-size="9.2" class="s" font-style="italic">x</text>
<line x1="184.30" y1="170.80" x2="187.50" y2="162.20" stroke="#222" stroke-width="0.75"/>
<text x="187.40" y="168.80" font-size="9.2" class="s" font-style="italic">D</text>
<g transform="translate(126.20 125.10) rotate(-90)"><text x="-7.4" y="0" font-size="9.2" class="s" font-style="italic">z</text><line x1="-2.9" y1="2.0" x2="0.3" y2="-6.6" stroke="#222" stroke-width="0.75"/><text x="0.2" y="0" font-size="9.2" class="s" font-style="italic">D</text></g>
<rect x="260.50" y="99.50" width="88.8" height="50.8" fill="none" stroke="#7a7a7a" stroke-width="1"/>
<line x1="260.50" y1="150.30" x2="260.50" y2="149.10" stroke="#555" stroke-width="0.6"/>
<line x1="285.87" y1="150.30" x2="285.87" y2="149.10" stroke="#555" stroke-width="0.6"/>
<line x1="311.24" y1="150.30" x2="311.24" y2="149.10" stroke="#555" stroke-width="0.6"/>
<line x1="336.61" y1="150.30" x2="336.61" y2="149.10" stroke="#555" stroke-width="0.6"/>
<line x1="260.50" y1="150.30" x2="261.70" y2="150.30" stroke="#555" stroke-width="0.6"/>
<line x1="260.50" y1="124.90" x2="261.70" y2="124.90" stroke="#555" stroke-width="0.6"/>
<line x1="260.50" y1="99.50" x2="261.70" y2="99.50" stroke="#555" stroke-width="0.6"/>
<rect x="263.80" y="100.50" width="16.5" height="6.4" fill="#fff"/>
<text y="106.00" font-size="5.8" class="s"><tspan x="266.60" font-style="italic">t</tspan><tspan x="268.70" font-size="3.8" dy="-2.2">*</tspan><tspan x="271.60" dy="2.2">=</tspan><tspan x="276.40">6</tspan></text>
<text x="237.80" y="96.60" font-size="8.8" class="s">(<tspan font-style="italic">f</tspan>)</text>
<text x="257.60" y="102.10" font-size="7.6" class="s" text-anchor="end">1</text>
<text x="257.60" y="127.50" font-size="7.6" class="s" text-anchor="end">0</text>
<text x="257.60" y="152.90" font-size="7.6" class="s" text-anchor="end">−1</text>
<text x="260.50" y="158.60" font-size="7.6" class="s" text-anchor="middle">3</text>
<text x="285.87" y="158.60" font-size="7.6" class="s" text-anchor="middle">4</text>
<text x="311.24" y="158.60" font-size="7.6" class="s" text-anchor="middle">5</text>
<text x="336.61" y="158.60" font-size="7.6" class="s" text-anchor="middle">6</text>
<text x="297.70" y="168.80" font-size="9.2" class="s" font-style="italic">x</text>
<line x1="302.40" y1="170.80" x2="305.60" y2="162.20" stroke="#222" stroke-width="0.75"/>
<text x="305.50" y="168.80" font-size="9.2" class="s" font-style="italic">D</text>
<g transform="translate(244.30 125.10) rotate(-90)"><text x="-7.4" y="0" font-size="9.2" class="s" font-style="italic">z</text><line x1="-2.9" y1="2.0" x2="0.3" y2="-6.6" stroke="#222" stroke-width="0.75"/><text x="0.2" y="0" font-size="9.2" class="s" font-style="italic">D</text></g>
<rect x="24.00" y="188.50" width="88.8" height="50.8" fill="none" stroke="#7a7a7a" stroke-width="1"/>
<line x1="24.00" y1="239.30" x2="24.00" y2="238.10" stroke="#555" stroke-width="0.6"/>
<line x1="49.37" y1="239.30" x2="49.37" y2="238.10" stroke="#555" stroke-width="0.6"/>
<line x1="74.74" y1="239.30" x2="74.74" y2="238.10" stroke="#555" stroke-width="0.6"/>
<line x1="100.11" y1="239.30" x2="100.11" y2="238.10" stroke="#555" stroke-width="0.6"/>
<line x1="24.00" y1="239.30" x2="25.20" y2="239.30" stroke="#555" stroke-width="0.6"/>
<line x1="24.00" y1="213.90" x2="25.20" y2="213.90" stroke="#555" stroke-width="0.6"/>
<line x1="24.00" y1="188.50" x2="25.20" y2="188.50" stroke="#555" stroke-width="0.6"/>
<rect x="27.30" y="189.50" width="16.5" height="6.4" fill="#fff"/>
<text y="195.00" font-size="5.8" class="s"><tspan x="30.10" font-style="italic">t</tspan><tspan x="32.20" font-size="3.8" dy="-2.2">*</tspan><tspan x="35.10" dy="2.2">=</tspan><tspan x="39.90">2</tspan></text>
<text x="1.30" y="185.60" font-size="8.8" class="s">(<tspan font-style="italic">g</tspan>)</text>
<text x="21.10" y="191.10" font-size="7.6" class="s" text-anchor="end">1</text>
<text x="21.10" y="216.50" font-size="7.6" class="s" text-anchor="end">0</text>
<text x="21.10" y="241.90" font-size="7.6" class="s" text-anchor="end">−1</text>
<text x="24.00" y="247.60" font-size="7.6" class="s" text-anchor="middle">−1</text>
<text x="49.37" y="247.60" font-size="7.6" class="s" text-anchor="middle">0</text>
<text x="74.74" y="247.60" font-size="7.6" class="s" text-anchor="middle">1</text>
<text x="100.11" y="247.60" font-size="7.6" class="s" text-anchor="middle">2</text>
<text x="61.20" y="257.80" font-size="9.2" class="s" font-style="italic">x</text>
<line x1="65.90" y1="259.80" x2="69.10" y2="251.20" stroke="#222" stroke-width="0.75"/>
<text x="69.00" y="257.80" font-size="9.2" class="s" font-style="italic">D</text>
<g transform="translate(7.80 214.10) rotate(-90)"><text x="-7.4" y="0" font-size="9.2" class="s" font-style="italic">z</text><line x1="-2.9" y1="2.0" x2="0.3" y2="-6.6" stroke="#222" stroke-width="0.75"/><text x="0.2" y="0" font-size="9.2" class="s" font-style="italic">D</text></g>
<rect x="142.40" y="188.50" width="88.8" height="50.8" fill="none" stroke="#7a7a7a" stroke-width="1"/>
<line x1="142.40" y1="239.30" x2="142.40" y2="238.10" stroke="#555" stroke-width="0.6"/>
<line x1="167.77" y1="239.30" x2="167.77" y2="238.10" stroke="#555" stroke-width="0.6"/>
<line x1="193.14" y1="239.30" x2="193.14" y2="238.10" stroke="#555" stroke-width="0.6"/>
<line x1="218.51" y1="239.30" x2="218.51" y2="238.10" stroke="#555" stroke-width="0.6"/>
<line x1="142.40" y1="239.30" x2="143.60" y2="239.30" stroke="#555" stroke-width="0.6"/>
<line x1="142.40" y1="213.90" x2="143.60" y2="213.90" stroke="#555" stroke-width="0.6"/>
<line x1="142.40" y1="188.50" x2="143.60" y2="188.50" stroke="#555" stroke-width="0.6"/>
<rect x="145.70" y="189.50" width="16.5" height="6.4" fill="#fff"/>
<text y="195.00" font-size="5.8" class="s"><tspan x="148.50" font-style="italic">t</tspan><tspan x="150.60" font-size="3.8" dy="-2.2">*</tspan><tspan x="153.50" dy="2.2">=</tspan><tspan x="158.30">4</tspan></text>
<text x="119.70" y="185.60" font-size="8.8" class="s">(<tspan font-style="italic">h</tspan>)</text>
<text x="139.50" y="191.10" font-size="7.6" class="s" text-anchor="end">1</text>
<text x="139.50" y="216.50" font-size="7.6" class="s" text-anchor="end">0</text>
<text x="139.50" y="241.90" font-size="7.6" class="s" text-anchor="end">−1</text>
<text x="142.40" y="247.60" font-size="7.6" class="s" text-anchor="middle">1</text>
<text x="167.77" y="247.60" font-size="7.6" class="s" text-anchor="middle">2</text>
<text x="193.14" y="247.60" font-size="7.6" class="s" text-anchor="middle">3</text>
<text x="218.51" y="247.60" font-size="7.6" class="s" text-anchor="middle">4</text>
<text x="179.60" y="257.80" font-size="9.2" class="s" font-style="italic">x</text>
<line x1="184.30" y1="259.80" x2="187.50" y2="251.20" stroke="#222" stroke-width="0.75"/>
<text x="187.40" y="257.80" font-size="9.2" class="s" font-style="italic">D</text>
<g transform="translate(126.20 214.10) rotate(-90)"><text x="-7.4" y="0" font-size="9.2" class="s" font-style="italic">z</text><line x1="-2.9" y1="2.0" x2="0.3" y2="-6.6" stroke="#222" stroke-width="0.75"/><text x="0.2" y="0" font-size="9.2" class="s" font-style="italic">D</text></g>
<rect x="260.50" y="188.50" width="88.8" height="50.8" fill="none" stroke="#7a7a7a" stroke-width="1"/>
<line x1="260.50" y1="239.30" x2="260.50" y2="238.10" stroke="#555" stroke-width="0.6"/>
<line x1="285.87" y1="239.30" x2="285.87" y2="238.10" stroke="#555" stroke-width="0.6"/>
<line x1="311.24" y1="239.30" x2="311.24" y2="238.10" stroke="#555" stroke-width="0.6"/>
<line x1="336.61" y1="239.30" x2="336.61" y2="238.10" stroke="#555" stroke-width="0.6"/>
<line x1="260.50" y1="239.30" x2="261.70" y2="239.30" stroke="#555" stroke-width="0.6"/>
<line x1="260.50" y1="213.90" x2="261.70" y2="213.90" stroke="#555" stroke-width="0.6"/>
<line x1="260.50" y1="188.50" x2="261.70" y2="188.50" stroke="#555" stroke-width="0.6"/>
<rect x="263.80" y="189.50" width="16.5" height="6.4" fill="#fff"/>
<text y="195.00" font-size="5.8" class="s"><tspan x="266.60" font-style="italic">t</tspan><tspan x="268.70" font-size="3.8" dy="-2.2">*</tspan><tspan x="271.60" dy="2.2">=</tspan><tspan x="276.40">6</tspan></text>
<text x="237.80" y="185.60" font-size="8.8" class="s">(<tspan font-style="italic">i</tspan>)</text>
<text x="257.60" y="191.10" font-size="7.6" class="s" text-anchor="end">1</text>
<text x="257.60" y="216.50" font-size="7.6" class="s" text-anchor="end">0</text>
<text x="257.60" y="241.90" font-size="7.6" class="s" text-anchor="end">−1</text>
<text x="260.50" y="247.60" font-size="7.6" class="s" text-anchor="middle">3</text>
<text x="285.87" y="247.60" font-size="7.6" class="s" text-anchor="middle">4</text>
<text x="311.24" y="247.60" font-size="7.6" class="s" text-anchor="middle">5</text>
<text x="336.61" y="247.60" font-size="7.6" class="s" text-anchor="middle">6</text>
<text x="297.70" y="257.80" font-size="9.2" class="s" font-style="italic">x</text>
<line x1="302.40" y1="259.80" x2="305.60" y2="251.20" stroke="#222" stroke-width="0.75"/>
<text x="305.50" y="257.80" font-size="9.2" class="s" font-style="italic">D</text>
<g transform="translate(244.30 214.10) rotate(-90)"><text x="-7.4" y="0" font-size="9.2" class="s" font-style="italic">z</text><line x1="-2.9" y1="2.0" x2="0.3" y2="-6.6" stroke="#222" stroke-width="0.75"/><text x="0.2" y="0" font-size="9.2" class="s" font-style="italic">D</text></g>
<rect x="30.8" y="33.6" width="20.4" height="26.6" fill="#fff"/>
<rect x="32.1" y="41.2" width="8.6" height="15.6" fill="url(#cb)"/>
<text x="37.6" y="39.8" font-size="7.2" class="s" font-style="italic" text-anchor="middle">ζ</text>
<text x="43.3" y="44.4" font-size="7.4" class="s">1</text>
<text x="42.9" y="51.7" font-size="7.4" class="s">0</text>
<text x="42.4" y="58.7" font-size="7.4" class="s">−1</text>
</svg></body></html>
